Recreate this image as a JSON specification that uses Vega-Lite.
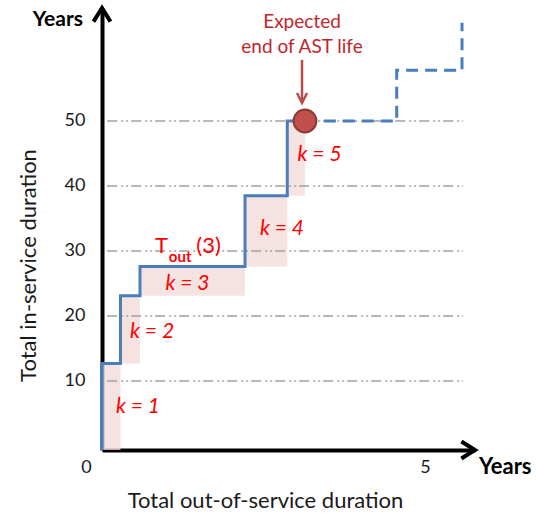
{
  "$schema": "https://vega.github.io/schema/vega-lite/v6.json",
  "width": 373,
  "height": 442,
  "autosize": "none",
  "padding": {"left": 102, "top": 8, "right": 61, "bottom": 70},
  "background": "white",
  "config": {"view": {"stroke": null}, "font": "Lato", "text": {"font": "Lato"}},
  "datasets": {
    "steps": [
      {"i": 0, "x": 0, "y": -0.615},
      {"i": 1, "x": 0, "y": 12.7},
      {"i": 2, "x": 0.286, "y": 23.1},
      {"i": 3, "x": 0.588, "y": 27.6},
      {"i": 4, "x": 2.214, "y": 38.5},
      {"i": 5, "x": 2.868, "y": 50},
      {"i": 6, "x": 3.14, "y": 50}
    ],
    "future": [
      {"i": 0, "x": 3.14, "y": 50},
      {"i": 1, "x": 4.562, "y": 57.8},
      {"i": 2, "x": 5.573, "y": 65.1}
    ],
    "blocks": [
      {"k": 1, "x": 0, "x2": 0.286, "y": -0.615, "y2": 12.7},
      {"k": 2, "x": 0.286, "x2": 0.588, "y": 12.7, "y2": 23.1},
      {"k": 3, "x": 0.588, "x2": 2.214, "y": 23.1, "y2": 27.6},
      {"k": 4, "x": 2.214, "x2": 2.868, "y": 27.6, "y2": 38.5},
      {"k": 5, "x": 2.868, "x2": 3.14, "y": 38.5, "y2": 50}
    ],
    "grid": [
      {"x": 0.08, "x2": 5.59, "y": 10},
      {"x": 0.08, "x2": 5.59, "y": 20},
      {"x": 0.08, "x2": 5.59, "y": 30},
      {"x": 0.08, "x2": 5.59, "y": 40},
      {"x": 0.08, "x2": 5.59, "y": 50}
    ],
    "klabels": [
      {"label": "k = 1", "x": 0.557, "y": 6.0},
      {"label": "k = 2", "x": 0.774, "y": 17.5},
      {"label": "k = 3", "x": 1.323, "y": 24.9},
      {"label": "k = 4", "x": 2.786, "y": 33.4},
      {"label": "k = 5", "x": 3.367, "y": 44.8}
    ],
    "tout": [
      {"label": "T", "x": 0.82, "y": 29.7},
      {"label": "(3)", "x": 1.46, "y": 29.7}
    ],
    "toutsub": [{"label": "out", "x": 1.035, "y": 28.3}],
    "endlife": [{"x": 3.142, "y": 50}],
    "pointer": [{"x": 3.096, "y": 59.4, "y2": 52.9}],
    "pointerhead": [{"x": 3.096, "y": 52.77}],
    "note": [
      {"label": "Expected", "x": 3.096, "y": 65.2},
      {"label": "end of AST life", "x": 3.096, "y": 61.4}
    ],
    "yarrow": [{"x": 0, "y": 67.38}],
    "xarrow": [{"x": 5.774, "y": -0.615}],
    "yunit": [{"label": "Years", "x": -0.294, "y": 65.5}],
    "xunit": [{"label": "Years", "x": 5.836, "y": -3.23}]
  },
  "encoding": {
    "x": {
      "field": "x",
      "type": "quantitative",
      "scale": {"domain": [0, 5.774], "nice": false, "zero": false},
      "axis": {
        "title": "Total out-of-service duration",
        "values": [0, 5],
        "grid": false,
        "ticks": false,
        "domainColor": "black",
        "domainWidth": 4,
        "labelFont": "Lato",
        "labelFontSize": 18,
        "labelColor": "#1a1a1a",
        "labelPadding": 8,
        "labelFlush": false,
        "labelOffset": {"condition": {"test": "datum.value == 0", "value": -16}, "value": 0},
        "titleFont": "Lato",
        "titleFontSize": 22,
        "titleFontWeight": "normal",
        "titleColor": "#1a1a1a",
        "titleX": 163,
        "titleY": 50,
        "titleBaseline": "middle",
        "titleAlign": "center"
      }
    },
    "y": {
      "field": "y",
      "type": "quantitative",
      "scale": {"domain": [-0.615, 67.38], "nice": false, "zero": false},
      "axis": {
        "title": "Total in-service duration",
        "values": [10, 20, 30, 40, 50],
        "grid": false,
        "ticks": false,
        "domainColor": "black",
        "domainWidth": 4,
        "labelFont": "Lato",
        "labelFontSize": 18,
        "labelColor": "#1a1a1a",
        "labelPadding": 17,
        "titleFont": "Lato",
        "titleFontSize": 22,
        "titleFontWeight": "normal",
        "titleColor": "#1a1a1a",
        "titleAngle": -90,
        "titleX": -74,
        "titleY": 257,
        "titleBaseline": "middle",
        "titleAlign": "center"
      }
    }
  },
  "layer": [
    {
      "data": {"name": "blocks"},
      "mark": {"type": "rect", "color": "#f2dcdb", "opacity": 0.8},
      "encoding": {"x2": {"field": "x2"}, "y2": {"field": "y2"}}
    },
    {
      "data": {"name": "grid"},
      "mark": {"type": "rule", "color": "#a0a0a0", "strokeWidth": 1.6, "strokeDash": [10, 4, 2, 3, 2, 3]},
      "encoding": {"x2": {"field": "x2"}}
    },
    {
      "data": {"name": "steps"},
      "mark": {"type": "line", "interpolate": "step-after", "color": "#4a7ebb", "strokeWidth": 3},
      "encoding": {"order": {"field": "i", "type": "quantitative"}}
    },
    {
      "data": {"name": "future"},
      "mark": {"type": "line", "interpolate": "step-after", "color": "#4a7ebb", "strokeWidth": 3, "strokeDash": [12, 7]},
      "encoding": {"order": {"field": "i", "type": "quantitative"}}
    },
    {
      "data": {"name": "pointer"},
      "mark": {"type": "rule", "color": "#b84c4a", "strokeWidth": 2.5},
      "encoding": {"y2": {"field": "y2"}}
    },
    {
      "data": {"name": "pointerhead"},
      "mark": {"type": "point", "shape": "M-1,-2L0,0L1,-2", "filled": false, "color": "#b84c4a", "strokeWidth": 2.5, "size": 100, "opacity": 1},
      "encoding": {}
    },
    {
      "data": {"name": "endlife"},
      "mark": {"type": "point", "shape": "circle", "filled": true, "fill": "#c0504d", "stroke": "#8c3836", "strokeWidth": 2, "size": 520, "opacity": 1},
      "encoding": {}
    },
    {
      "data": {"name": "yarrow"},
      "mark": {"type": "point", "shape": "M-1,1.6L0,0L1,1.6", "filled": false, "color": "black", "strokeWidth": 4, "size": 289, "opacity": 1},
      "encoding": {}
    },
    {
      "data": {"name": "xarrow"},
      "mark": {"type": "point", "shape": "M-1.6,-1L0,0L-1.6,1", "filled": false, "color": "black", "strokeWidth": 4, "size": 289, "opacity": 1},
      "encoding": {}
    },
    {
      "data": {"name": "klabels"},
      "mark": {"type": "text", "color": "#ff0000", "fontSize": 21, "fontStyle": "italic", "align": "center", "baseline": "middle"},
      "encoding": {"text": {"field": "label"}}
    },
    {
      "data": {"name": "tout"},
      "mark": {"type": "text", "color": "#ff0000", "fontSize": 22, "align": "left", "baseline": "alphabetic"},
      "encoding": {"text": {"field": "label"}}
    },
    {
      "data": {"name": "toutsub"},
      "mark": {"type": "text", "color": "#ff0000", "fontSize": 15, "fontWeight": "bold", "align": "left", "baseline": "alphabetic"},
      "encoding": {"text": {"field": "label"}}
    },
    {
      "data": {"name": "note"},
      "mark": {"type": "text", "color": "#c0262d", "fontSize": 19, "align": "center", "baseline": "middle"},
      "encoding": {"text": {"field": "label"}}
    },
    {
      "data": {"name": "yunit"},
      "mark": {"type": "text", "color": "black", "fontSize": 21, "fontWeight": "bold", "align": "right", "baseline": "middle"},
      "encoding": {"text": {"field": "label"}}
    },
    {
      "data": {"name": "xunit"},
      "mark": {"type": "text", "color": "black", "fontSize": 22, "fontWeight": "bold", "align": "left", "baseline": "middle"},
      "encoding": {"text": {"field": "label"}}
    }
  ]
}
